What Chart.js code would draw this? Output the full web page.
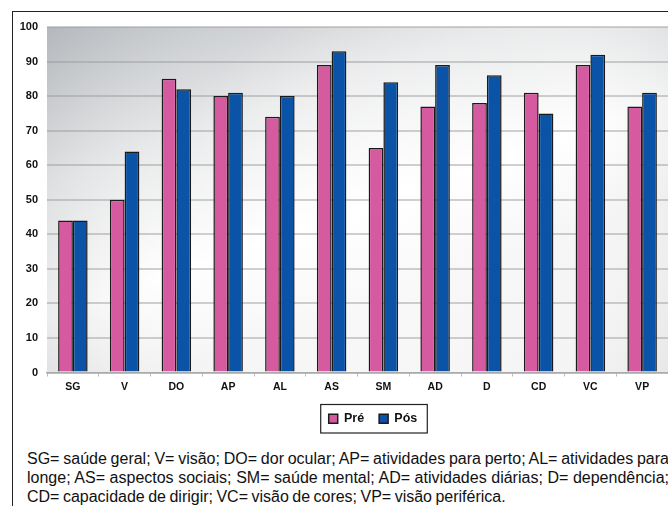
<!DOCTYPE html>
<html>
<head>
<meta charset="utf-8">
<script src="https://cdn.jsdelivr.net/npm/chart.js@4.4.0/dist/chart.umd.min.js"></script>
<style>
  html, body { margin:0; padding:0; background:#fff; width:668px; height:506px; overflow:hidden; }
  #frame { position:absolute; left:12px; top:11px; width:700px; height:600px; border-left:1.5px solid #222; border-top:1.5px solid #222; }
  #wrap { position:absolute; left:0; top:0; width:668px; height:440px; }
  #caption { position:absolute; left:27px; top:448.5px; width:642px; font-family:"Liberation Sans", Arial, sans-serif; font-size:16px; line-height:19px; color:#111; word-spacing:-1px; }
  .j { text-align:justify; text-align-last:justify; white-space:nowrap; }
</style>
</head>
<body>
<div id="frame"></div>
<div id="wrap"><canvas id="c" width="668" height="440"></canvas></div>
<div id="caption">
  <div class="j">SG= saúde geral; V= visão; DO= dor ocular; AP= atividades para perto; AL= atividades para</div>
  <div class="j">longe; AS= aspectos sociais; SM= saúde mental; AD= atividades diárias; D= dependência;</div>
  <div>CD= capacidade de dirigir; VC= visão de cores; VP= visão periférica.</div>
</div>
<script>
const categories = ["SG","V","DO","AP","AL","AS","SM","AD","D","CD","VC","VP"];
const preValues  = [44, 50, 85, 80, 74, 89, 65, 77, 78, 81, 89, 77];
const posValues  = [44, 64, 82, 81, 80, 93, 84, 89, 86, 75, 92, 81];
const seriesNames = ["Pré", "Pós"];
const yTicks = [0,10,20,30,40,50,60,70,80,90,100];

const bgPlugin = {
  id: 'bg',
  afterLayout(chart) {
    const lg = chart.legend;
    if (lg) { lg.left += 39; lg.right += 39; lg.top += 3; lg.bottom += 3; }
  },
  beforeDraw(chart) {
    const {ctx, chartArea: a} = chart;
    ctx.save();
    const g = ctx.createLinearGradient(a.left, a.top, a.left + 120, a.bottom);
    g.addColorStop(0, '#b2b6bb');
    g.addColorStop(0.4, '#e6e7e8');
    g.addColorStop(0.75, '#ffffff');
    g.addColorStop(1, '#f4f4f4');
    ctx.fillStyle = g;
    ctx.fillRect(a.left, a.top, a.right - a.left, a.bottom - a.top);
    const r = ctx.createRadialGradient(a.left + 330, a.top + 190, 10, a.left + 330, a.top + 190, 420);
    r.addColorStop(0, 'rgba(255,255,255,0.6)');
    r.addColorStop(0.5, 'rgba(255,255,255,0.1)');
    r.addColorStop(1, 'rgba(165,168,172,0.5)');
    ctx.fillStyle = r;
    ctx.fillRect(a.left, a.top, a.right - a.left, a.bottom - a.top);
    ctx.restore();
  },
  afterDraw(chart) {
    const lg = chart.legend;
    if (!lg || !lg.legendHitBoxes || !lg.legendHitBoxes.length) return;
    const hb = lg.legendHitBoxes;
    const left = Math.min(...hb.map(h => h.left)) - 8;
    const right = Math.max(...hb.map(h => h.left + h.width)) + 10;
    const top = Math.min(...hb.map(h => h.top)) - 8;
    const bottom = Math.max(...hb.map(h => h.top + h.height)) + 8;
    const ctx = chart.ctx;
    ctx.save();
    ctx.strokeStyle = '#222';
    ctx.lineWidth = 1.2;
    ctx.strokeRect(left, top, right - left, bottom - top);
    ctx.restore();
  }
};

new Chart(document.getElementById('c'), {
  type: 'bar',
  data: {
    labels: categories,
    datasets: [
      { label: seriesNames[0], data: preValues, backgroundColor: '#d65aa0', borderColor: '#1a1a1a', borderWidth: 1.5, barPercentage: 1.0, categoryPercentage: 0.57 },
      { label: seriesNames[1], data: posValues, backgroundColor: '#0b53a6', borderColor: '#1a1a1a', borderWidth: 1.5, barPercentage: 1.0, categoryPercentage: 0.57 }
    ]
  },
  options: {
    responsive: false,
    animation: false,
    layout: { padding: { top: 27, left: 0, right: 0, bottom: 8 } },
    plugins: {
      tooltip: { enabled: false },
      legend: {
        position: 'bottom',
        labels: {
          boxWidth: 9, boxHeight: 9, padding: 15,
          color: '#111',
          font: { family: '"Liberation Sans", Arial, sans-serif', size: 12.5, weight: 'bold' }
        }
      }
    },
    scales: {
      x: {
        grid: { display: true, drawOnChartArea: false, drawTicks: true, tickLength: 4, color: '#bbb', offset: true },
        border: { display: true, color: '#aaa', width: 1.5 },
        ticks: { color: '#111', padding: 4, font: { family: '"Liberation Sans", Arial, sans-serif', size: 10.5, weight: 'bold' } },
        afterFit(s) { s.height = 22; }
      },
      y: {
        min: 0, max: 100,
        afterBuildTicks(s) { s.ticks = yTicks.map(v => ({ value: v })); },
        grid: { color: 'rgba(150,150,150,0.45)', lineWidth: 2, drawTicks: false },
        border: { display: false },
        ticks: { color: '#111', padding: 9, font: { family: '"Liberation Sans", Arial, sans-serif', size: 11, weight: 'bold' } },
        afterFit(s) { s.width = 47; }
      }
    }
  },
  plugins: [bgPlugin]
});
</script>
</body>
</html>
